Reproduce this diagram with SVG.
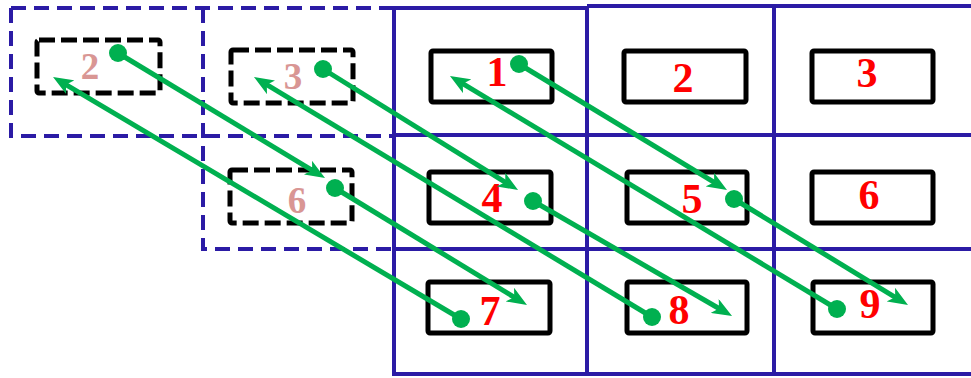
<svg xmlns="http://www.w3.org/2000/svg" width="971" height="378" viewBox="0 0 971 378">
<style>
.grid{stroke:#2B1BA5;stroke-width:4;fill:none}
.gdash{stroke:#2B1BA5;stroke-width:4;fill:none;stroke-dasharray:15 8}
.box{stroke:#000;stroke-width:5;fill:none}
.bdash{stroke:#000;stroke-width:5;fill:none;stroke-dasharray:16 6}
.lbl{font-family:"Liberation Serif","Times New Roman",serif;font-weight:bold;font-size:42px;fill:#FF0000;text-anchor:middle}
.plbl{font-family:"Liberation Serif","Times New Roman",serif;font-weight:bold;font-size:37px;fill:#D99694;text-anchor:middle}
.arr{stroke:#00B050;stroke-width:5;fill:none;marker-end:url(#ah)}
.dot{fill:#00B050}
</style>
<defs>
<marker id="ah" markerUnits="userSpaceOnUse" markerWidth="20" markerHeight="16" refX="9" refY="8" orient="auto" viewBox="0 0 20 16">
<path d="M0,0 L20,8 L0,16 L5,8 Z" fill="#00B050"/>
</marker>
</defs>
<rect width="971" height="378" fill="#fff"/>
<g id="grid">
<path class="grid" d="M394,8 H587 M587,6 H975 M394,8 V374 H975 M587,6 V374 M774,6 V374 M394,135 H975 M394,249 H975"/>
<path class="gdash" d="M11,8 H395 M11,8 V136 H395 M203,8 V249 H395"/>
</g>
<g id="node-d2"><rect class="bdash" x="37" y="40" width="123" height="53" rx="2"/><text class="plbl" x="90" y="79">2</text></g>
<g id="node-d3"><rect class="bdash" x="231" y="50" width="122" height="53" rx="2"/><text class="plbl" x="293" y="89">3</text></g>
<g id="node-d6"><rect class="bdash" x="230" y="170" width="122" height="53" rx="2"/><text class="plbl" x="297" y="213">6</text></g>
<g id="node-1"><rect class="box" x="431" y="51" width="121" height="51" rx="2"/><text class="lbl" x="497" y="86">1</text></g>
<g id="node-2"><rect class="box" x="624" y="51" width="122" height="51" rx="2"/><text class="lbl" x="683" y="92">2</text></g>
<g id="node-3"><rect class="box" x="812" y="51" width="121" height="51" rx="2"/><text class="lbl" x="867" y="87">3</text></g>
<g id="node-4"><rect class="box" x="429" y="172" width="122" height="51" rx="2"/><text class="lbl" x="492" y="212">4</text></g>
<g id="node-5"><rect class="box" x="627" y="172" width="120" height="51" rx="2"/><text class="lbl" x="692" y="213">5</text></g>
<g id="node-6"><rect class="box" x="812" y="172" width="121" height="51" rx="2"/><text class="lbl" x="869" y="209">6</text></g>
<g id="node-7"><rect class="box" x="428" y="282" width="122" height="51" rx="2"/><text class="lbl" x="490" y="325">7</text></g>
<g id="node-8"><rect class="box" x="627" y="282" width="120" height="51" rx="2"/><text class="lbl" x="679" y="324">8</text></g>
<g id="node-9"><rect class="box" x="813" y="282" width="120" height="51" rx="2"/><text class="lbl" x="870" y="318">9</text></g>
<g id="connectors">
<line class="arr" x1="118" y1="53" x2="315.6" y2="172.3"/>
<line class="arr" x1="335" y1="188" x2="517.6" y2="299.3"/>
<line class="arr" x1="461" y1="319" x2="62.5" y2="82.6"/>
<line class="arr" x1="323" y1="69" x2="508.7" y2="184.3"/>
<line class="arr" x1="533" y1="201" x2="722.5" y2="310.5"/>
<line class="arr" x1="652" y1="317" x2="263.4" y2="82.7"/>
<line class="arr" x1="519" y1="64" x2="717.6" y2="184.3"/>
<line class="arr" x1="734" y1="199" x2="898.6" y2="299.3"/>
<line class="arr" x1="837" y1="309" x2="459.4" y2="81.6"/>
<circle class="dot" cx="118" cy="53" r="9"/>
<circle class="dot" cx="335" cy="188" r="9"/>
<circle class="dot" cx="461" cy="319" r="9"/>
<circle class="dot" cx="323" cy="69" r="9"/>
<circle class="dot" cx="533" cy="201" r="9"/>
<circle class="dot" cx="652" cy="317" r="9"/>
<circle class="dot" cx="519" cy="64" r="9"/>
<circle class="dot" cx="734" cy="199" r="9"/>
<circle class="dot" cx="837" cy="309" r="9"/>
</g>
</svg>
